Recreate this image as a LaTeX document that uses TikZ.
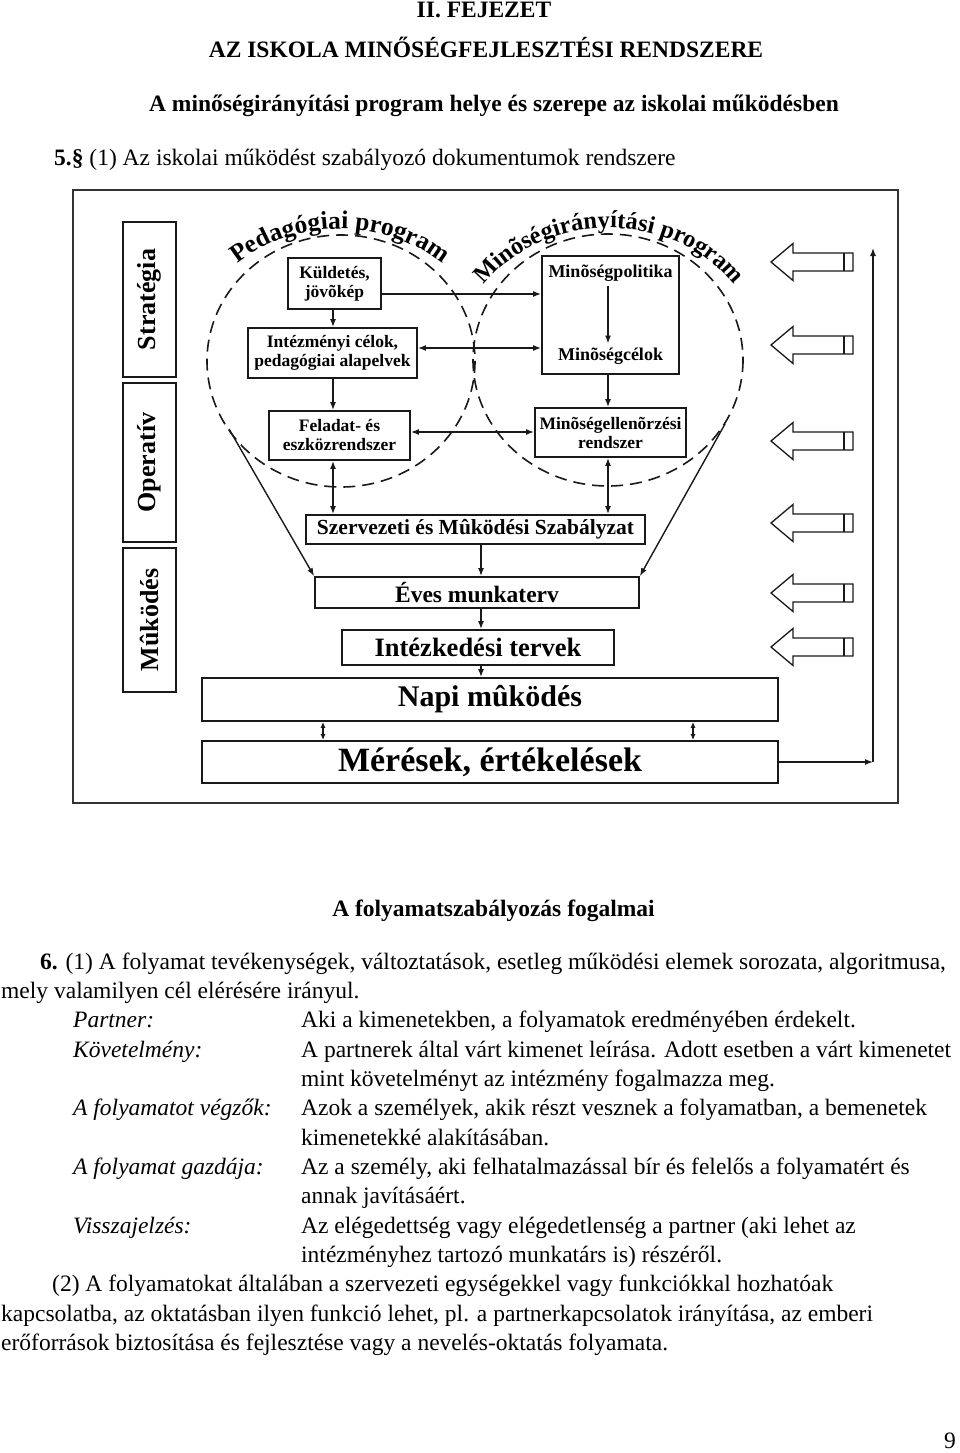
\documentclass[tikz,border=0pt]{standalone}
\usepackage{fontspec}
\setmainfont{Liberation Serif}
\usetikzlibrary{arrows.meta,calc}
\tikzset{
  box/.style={draw=black!90, line width=1.8pt, inner sep=0pt, align=center, font=\bfseries},
  arr/.style={draw=black!90, line width=1.4pt, -{Latex[length=8pt,width=6pt]}},
  darr/.style={draw=black!90, line width=1.4pt, {Latex[length=8pt,width=6pt]}-{Latex[length=8pt,width=6pt]}},
  sdarr/.style={draw=black!90, line width=1.3pt, {Latex[length=6pt,width=5pt]}-{Latex[length=6pt,width=5pt]}},
  dcirc/.style={draw=black!90, line width=1.6pt, dash pattern=on 12pt off 7pt},
  hollow/.style={draw=black!90, line width=1.3pt, fill=white},
  txt/.style={inner sep=0pt, font=\fontsize{23.5}{29.35}\selectfont},
  lbl/.style={draw=black!90, line width=1.8pt, inner sep=0pt, rotate=90, font=\fontsize{26}{26}\selectfont\bfseries},
  arcch/.style={inner sep=0pt, anchor=base, text=black},
}
% #1 name prefix, #2 font size, #3 cx, #4 cy, #5 rx, #6 ry, #7 char/width list (em), #8 total width (em)
\newcommand\arcletters[8]{%
  \def\arcfnt{\bfseries\fontsize{#2}{#2}\selectfont}%
  \xdef\arccum{0}%
  \foreach \ch/\w [count=\k] in {#7}{%
    \pgfmathsetmacro\sarc{(\arccum+0.5*\w-0.5*#8)*#2}%
    \pgfmathsetmacro\tz{90-deg(\sarc/#5)}%
    \pgfmathsetmacro\tm{(90+\tz)/2}%
    \pgfmathsetmacro\spd{100*sqrt((#5/100*sin(\tm))^2+(#6/100*cos(\tm))^2)}%
    \pgfmathsetmacro\tpar{90-deg(\sarc/\spd)}%
    \pgfmathsetmacro\xp{#3+#5*cos(\tpar)}%
    \pgfmathsetmacro\yp{#4-#6*sin(\tpar)}%
    \pgfmathsetmacro\rot{atan2(-#6*cos(\tpar),#5*sin(\tpar))}%
    \node[arcch, rotate=\rot, font=\arcfnt] (#1\k) at (\xp,\yp) {\ch};
    \pgfmathsetmacro\newcum{\arccum+\w}%
    \xdef\arccum{\newcum}%
  }%
}
\begin{document}
\begin{tikzpicture}[x=1pt,y=-1pt]
\useasboundingbox (0,0) rectangle (960,1453);
\fill[white] (0,0) rectangle (960,1453);

% ---------- headings ----------
\node[txt,anchor=base] (h1) at (484,17.5) {\bfseries II. FEJEZET};
\node[txt,anchor=base] (h2) at (486,58) {\bfseries AZ ISKOLA MINŐSÉGFEJLESZTÉSI RENDSZERE};
\node[txt,anchor=base] (h3) at (494,112) {\bfseries A minőségirányítási program helye és szerepe az iskolai működésben};
\node[txt,anchor=base west] (h4) at (54,165) {\textbf{5.§} (1) Az iskolai működést szabályozó dokumentumok rendszere};

% ---------- frame ----------
\draw[black!80, line width=2.4pt] (73,190) rectangle (898,803);

% ---------- left labels ----------
\node[lbl, minimum width=155pt, minimum height=53pt] (strat) at (149.5,299.5) {Stratégia};
\node[lbl, minimum width=159pt, minimum height=53pt] (oper) at (149.5,462.5) {Operatív};
\node[lbl, minimum width=144pt, minimum height=53pt] (mukod) at (149.5,620) {Mûködés};

% ---------- dashed circles ----------
\coordinate (pc) at (341,361);
\coordinate (mc) at (608,360);
\draw[dcirc] (pc) ellipse [x radius=134, y radius=126];
\draw[dcirc] (mc) ellipse [x radius=135, y radius=126];

% ---------- curved titles ----------
\arcletters{ped}{25.5}{340}{361}{152}{132}{P/0.611,e/0.444,d/0.556,a/0.5,g/0.5,ó/0.5,g/0.5,i/0.278,a/0.5,i/0.278,~/0.25,p/0.556,r/0.444,o/0.5,g/0.5,r/0.444,a/0.5,m/0.833}{8.694}
\arcletters{min}{24.5}{609}{360}{152}{132}{M/0.944,i/0.278,n/0.556,õ/0.5,s/0.389,é/0.444,g/0.5,i/0.278,r/0.444,á/0.5,n/0.556,y/0.5,í/0.278,t/0.333,á/0.5,s/0.389,i/0.278,~/0.25,p/0.556,r/0.444,o/0.5,g/0.5,r/0.444,a/0.5,m/0.833}{11.694}

% ---------- boxes in the left circle ----------
\node[box, minimum width=93pt, minimum height=51pt, font=\fontsize{17.5}{19}\selectfont\bfseries] (kuld) at (334.5,283.5) {Küldetés,\\jövõkép};
\node[box, minimum width=169pt, minimum height=50pt, font=\fontsize{17.5}{19}\selectfont\bfseries] (inte) at (332.5,353) {Intézményi célok,\\pedagógiai alapelvek};
\node[box, minimum width=141pt, minimum height=49pt, font=\fontsize{17.5}{19}\selectfont\bfseries] (fel) at (339.5,435.5) {Feladat- és\\eszközrendszer};

% ---------- boxes in the right circle ----------
\node[box, minimum width=137pt, minimum height=118pt] (pol) at (610.5,315) {};
\node[inner sep=0pt, font=\fontsize{18}{18}\selectfont\bfseries] (poltxt) at (610.5,273) {Minõségpolitika};
\node[inner sep=0pt, font=\fontsize{18}{18}\selectfont\bfseries] (celtxt) at (610.5,356) {Minõségcélok};
\node[box, minimum width=151pt, minimum height=49pt, font=\fontsize{17.5}{19}\selectfont\bfseries] (ell) at (610.5,432.5) {Minõségellenõrzési\\rendszer};

% ---------- lower boxes ----------
\node[box, minimum width=339pt, minimum height=29pt, font=\fontsize{21.5}{21.5}\selectfont\bfseries] (szmsz) at (475.5,529.5) {Szervezeti és Mûködési Szabályzat};
\node[box, minimum width=324pt, minimum height=31pt, font=\fontsize{23.5}{23.5}\selectfont\bfseries] (eves) at (477,592.5) {Éves munkaterv};
\node[box, minimum width=272pt, minimum height=35pt, font=\fontsize{26.5}{26.5}\selectfont\bfseries] (intezk) at (478,647.5) {Intézkedési tervek};
\node[box, minimum width=576pt, minimum height=43pt, font=\fontsize{30}{30}\selectfont\bfseries] (napi) at (490,699.5) {Napi mûködés};
\node[box, minimum width=576pt, minimum height=42pt, font=\fontsize{34}{34}\selectfont\bfseries] (mer) at (490,762) {Mérések, értékelések};

% ---------- helper coordinates ----------
\coordinate (xl) at (333,0);
\coordinate (xr) at (608,0);
\coordinate (xm) at (481,0);
\coordinate (xa) at (323,0);
\coordinate (xb) at (693,0);
\coordinate (y1) at (0,294);
\coordinate (y2) at (0,348);
\coordinate (y3) at (0,432);
\coordinate (ls) at (229,429);
\coordinate (rs) at (725,424);
\coordinate (fbc) at (873,762);
\coordinate (fbt) at (873,248);

% ---------- connectors ----------
\draw[arr] (kuld.south -| xl) -- (inte.north -| xl);
\draw[arr] (inte.south -| xl) -- (fel.north -| xl);
\draw[darr] (fel.south -| xl) -- (szmsz.north -| xl);
\draw[arr] (kuld.east |- y1) -- (pol.west |- y1);
\draw[darr] (inte.east |- y2) -- (pol.west |- y2);
\draw[darr] (fel.east |- y3) -- (ell.west |- y3);
\draw[arr] ($(poltxt.south -| xr)+(0,5)$) -- ($(celtxt.north -| xr)+(0,-4)$);
\draw[arr] (pol.south -| xr) -- (ell.north -| xr);
\draw[darr] (ell.south -| xr) -- (szmsz.north -| xr);
\draw[arr] (szmsz.south -| xm) -- (eves.north -| xm);
\draw[arr] (eves.south -| xm) -- (intezk.north -| xm);
\draw[arr] (intezk.south -| xm) -- (napi.north -| xm);
\draw[sdarr] (napi.south -| xa) -- (mer.north -| xa);
\draw[sdarr] (napi.south -| xb) -- (mer.north -| xb);
\draw[arr] (ls) -- (eves.north west);
\draw[arr] (rs) -- (eves.north east);
\draw[arr] (mer.east |- fbc) -- (fbc);
\draw[arr] (fbc) -- (fbt);

% ---------- hollow input arrows ----------
\foreach \yc in {262,345,441,523,593,647}{
  \draw[hollow] (771,\yc) -- (793,{\yc-18.5}) -- (793,{\yc-9}) -- (853,{\yc-9})
     -- (853,{\yc+9}) -- (793,{\yc+9}) -- (793,{\yc+18.5}) -- cycle;
  \draw[draw=black!90, line width=1.3pt] (844,{\yc-9}) -- (844,{\yc+9});
}

% ---------- body text ----------
\node[txt,anchor=base] (b0) at (493.5,916) {\bfseries A folyamatszabályozás fogalmai};
\node[txt,anchor=base west] (b1) at (40,969) {\textbf{6.} (1) A folyamat tevékenységek, változtatások, esetleg működési elemek sorozata, algoritmusa,};
\node[txt,anchor=base west] (b2) at (1,998.35) {mely valamilyen cél elérésére irányul.};
\node[txt,anchor=base west] (l3) at (73,1027.7) {\itshape Partner:};
\node[txt,anchor=base west] (b3) at (301,1027.7) {Aki a kimenetekben, a folyamatok eredményében érdekelt.};
\node[txt,anchor=base west] (l4) at (73,1057.05) {\itshape Követelmény:};
\node[txt,anchor=base west] (b4) at (301,1057.05) {A partnerek által várt kimenet leírása. Adott esetben a várt kimenetet};
\node[txt,anchor=base west] (b5) at (301,1086.4) {mint követelményt az intézmény fogalmazza meg.};
\node[txt,anchor=base west] (l6) at (73,1115.75) {\itshape A folyamatot végzők:};
\node[txt,anchor=base west] (b6) at (301,1115.75) {Azok a személyek, akik részt vesznek a folyamatban, a bemenetek};
\node[txt,anchor=base west] (b7) at (301,1145.1) {kimenetekké alakításában.};
\node[txt,anchor=base west] (l8) at (73,1174.45) {\itshape A folyamat gazdája:};
\node[txt,anchor=base west] (b8) at (301,1174.45) {Az a személy, aki felhatalmazással bír és felelős a folyamatért és};
\node[txt,anchor=base west] (b9) at (301,1203.8) {annak javításáért.};
\node[txt,anchor=base west] (l10) at (73,1233.15) {\itshape Visszajelzés:};
\node[txt,anchor=base west] (b10) at (301,1233.15) {Az elégedettség vagy elégedetlenség a partner (aki lehet az};
\node[txt,anchor=base west] (b11) at (301,1262.5) {intézményhez tartozó munkatárs is) részéről.};
\node[txt,anchor=base west] (b12) at (52,1291.85) {(2) A folyamatokat általában a szervezeti egységekkel vagy funkciókkal hozhatóak};
\node[txt,anchor=base west] (b13) at (1,1321.2) {kapcsolatba, az oktatásban ilyen funkció lehet, pl. a partnerkapcsolatok irányítása, az emberi};
\node[txt,anchor=base west] (b14) at (1,1350.55) {erőforrások biztosítása és fejlesztése vagy a nevelés-oktatás folyamata.};
\node[txt,anchor=base] (pg) at (950,1448) {9};
\end{tikzpicture}
\end{document}
